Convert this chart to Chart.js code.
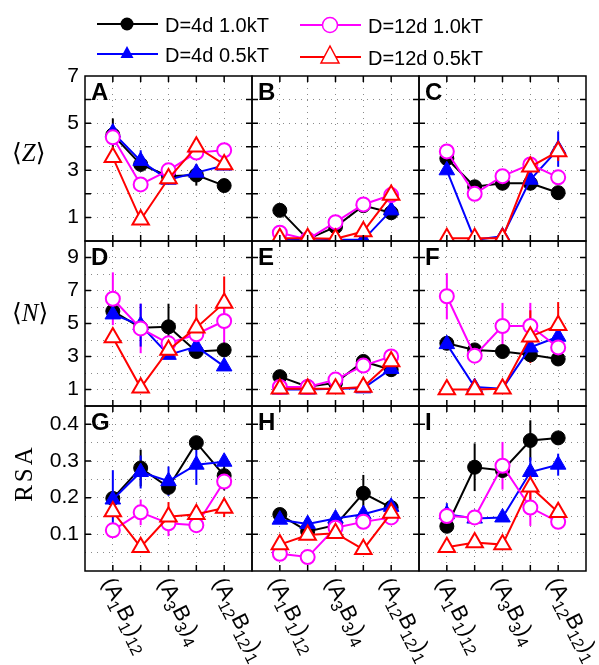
<!DOCTYPE html>
<html>
<head>
<meta charset="utf-8">
<script src="https://cdn.jsdelivr.net/npm/chart.js@4.4.1/dist/chart.umd.min.js"></script>
<style>
  body { margin: 0; background: #fff; }
  #wrap { position: relative; width: 599px; height: 665px; overflow: hidden; font-family: "Liberation Sans", Arial, sans-serif; }
  #chartContainer { position: absolute; left: 0; top: 0; }
  #legend { position: absolute; left: 0; top: 0; }
  .ytitle { position: absolute; font-family: "Liberation Serif", "DejaVu Serif", serif; font-size: 25px; line-height: 1; white-space: nowrap; }
  .xlab { position: absolute; font-size: 22px; line-height: 1; white-space: nowrap; transform-origin: 0 0; transform: rotate(63deg) translateY(-50%); }
  .xlab sub { font-size: 0.75em; vertical-align: -0.35em; line-height: 0; }
</style>
</head>
<body>
<div id="wrap">
  <canvas id="chartContainer" width="599" height="665"></canvas>
  <svg id="legend" width="599" height="75"></svg>
  <div class="ytitle" style="left:12px;top:140px">⟨<i>Z</i>⟩</div>
  <div class="ytitle" style="left:12px;top:300px">⟨<i>N</i>⟩</div>
  <div class="ytitle" style="left:23px;top:473px;transform:translate(-50%,-50%) rotate(-90deg);letter-spacing:3px">RSA</div>
</div>
<script>
const xPos = [1, 2, 3, 4, 5];
const xTickPos = [1, 3, 5];
const xTickLabels = ['(A<sub>1</sub>B<sub>1</sub>)<sub>12</sub>', '(A<sub>3</sub>B<sub>3</sub>)<sub>4</sub>', '(A<sub>12</sub>B<sub>12</sub>)<sub>1</sub>'];
const panelLetters = ['A', 'B', 'C', 'D', 'E', 'F', 'G', 'H', 'I'];
const seriesNames = ['D=4d 1.0kT', 'D=4d 0.5kT', 'D=12d 1.0kT', 'D=12d 0.5kT'];
const seriesColors = ['#000000', '#0000ff', '#ff00ff', '#ff0000'];

// <Z>, one list per panel column
const zD4T10 = [[4.5, 3.25, 2.75, 2.8, 2.35], [1.3, 0.08, 0.6, 1.5, 1.2], [3.5, 2.3, 2.45, 2.45, 2.05]];
const zD4T05 = [[4.6, 3.4, 2.6, 2.9, 3.2], [0.08, 0.02, 0.05, 0.05, 1.3], [3.0, 0.05, 0.2, 2.6, 3.9]];
const zD12T10 = [[4.4, 2.4, 3.0, 3.75, 3.85], [0.35, 0.07, 0.8, 1.55, 1.95], [3.8, 2.0, 2.75, 3.25, 2.7]];
const zD12T05 = [[3.55, 0.9, 2.65, 4.0, 3.25], [0.12, 0.12, 0.1, 0.4, 1.95], [0.12, 0.12, 0.12, 3.15, 3.8]];

// <N>
const nD4T10 = [[5.75, 4.75, 4.8, 3.3, 3.4], [1.78, 1.17, 1.4, 2.7, 2.2], [3.8, 3.4, 3.3, 3.1, 2.85]];
const nD4T05 = [[5.55, 4.9, 3.1, 3.6, 2.4], [1.0, 1.0, 1.05, 1.07, 2.25], [3.75, 1.15, 1.05, 3.55, 4.2]];
const nD12T10 = [[6.5, 4.7, 3.8, 4.35, 5.15], [1.15, 1.15, 1.6, 2.45, 3.0], [6.65, 3.05, 4.85, 4.85, 3.55]];
const nD12T05 = [[4.15, 1.1, 3.4, 4.75, 6.25], [1.05, 1.05, 1.05, 1.15, 2.7], [1.0, 1.0, 1.05, 4.2, 4.9]];

// RSA
const rD4T10 = [[0.198, 0.281, 0.228, 0.35, 0.26], [0.154, 0.108, 0.125, 0.212, 0.173], [0.122, 0.283, 0.274, 0.356, 0.363]];
const rD4T05 = [[0.195, 0.27, 0.245, 0.29, 0.298], [0.14, 0.128, 0.143, 0.155, 0.175], [0.155, 0.143, 0.146, 0.27, 0.29]];
const rD12T10 = [[0.111, 0.16, 0.13, 0.125, 0.244], [0.047, 0.038, 0.118, 0.134, 0.146], [0.15, 0.146, 0.287, 0.173, 0.134]];
const rD12T05 = [[0.162, 0.065, 0.148, 0.155, 0.172], [0.072, 0.098, 0.103, 0.059, 0.158], [0.065, 0.078, 0.072, 0.23, 0.16]];

// [row, column, series, point, half length]
const errorBars = [
  [0, 0, 0, 0, 0.7], [0, 0, 1, 1, 0.45], [0, 0, 0, 3, 0.45],
  [0, 2, 1, 4, 0.75], [0, 2, 3, 4, 0.4],
  [1, 0, 2, 0, 1.6], [1, 0, 2, 1, 1.5], [1, 0, 0, 2, 1.4], [1, 0, 3, 3, 1.4], [1, 0, 3, 4, 1.6], [1, 0, 2, 4, 1.7], [1, 0, 1, 1, 1.3],
  [1, 2, 2, 0, 1.4], [1, 2, 2, 2, 1.4], [1, 2, 2, 3, 1.4], [1, 2, 3, 3, 1.6], [1, 2, 3, 4, 1.4],
  [2, 0, 1, 0, 0.08], [2, 0, 0, 1, 0.05], [2, 0, 1, 1, 0.045], [2, 0, 1, 2, 0.04], [2, 0, 1, 3, 0.055], [2, 0, 0, 4, 0.04],
  [2, 0, 2, 1, 0.035], [2, 0, 3, 2, 0.04], [2, 0, 3, 4, 0.025], [2, 0, 2, 2, 0.035],
  [2, 1, 0, 3, 0.05],
  [2, 2, 0, 1, 0.065], [2, 2, 0, 3, 0.055], [2, 2, 2, 2, 0.065], [2, 2, 2, 3, 0.05], [2, 2, 1, 0, 0.03], [2, 2, 1, 3, 0.04],
  [2, 2, 3, 3, 0.06], [2, 2, 1, 4, 0.03]
];

const rowValues = [
  [zD4T10, zD4T05, zD12T10, zD12T05],
  [nD4T10, nD4T05, nD12T10, nD12T05],
  [rD4T10, rD4T05, rD12T10, rD12T05]
];
const rowMin = [0, 0, 0];
const rowMax = [7, 10, 0.45];
const rowStep = [1, 1, 0.05];

const markStyle = [
  {pointStyle: 'circle', radius: 7, fill: '#000000', border: 1},
  {pointStyle: 'triangle', radius: 9, fill: '#0000ff', border: 1},
  {pointStyle: 'circle', radius: 7, fill: '#ffffff', border: 2},
  {pointStyle: 'triangle', radius: 9.5, fill: '#ffffff', border: 2}
];

function isLabelled(row, v) {
  if (row === 2) {
    const k = Math.round(v * 20);
    return k > 0 && k < 9 && k % 2 === 0;
  }
  return Math.round(v) % 2 === 1;
}
function hasTickMark(row, v) {
  if (row === 0) return v > 0.01 && v < 6.99;
  return isLabelled(row, v);
}

const datasets = [];
for (let r = 0; r < 3; r++) {
  for (let c = 0; c < 3; c++) {
    for (let s = 0; s < 4; s++) {
      const m = markStyle[s];
      datasets.push({
        label: seriesNames[s],
        data: rowValues[r][s][c].map((v, i) => ({x: xPos[i], y: v})),
        xAxisID: 'x' + c,
        yAxisID: 'y' + r,
        borderColor: seriesColors[s],
        borderWidth: 2,
        backgroundColor: seriesColors[s],
        pointStyle: m.pointStyle,
        pointRadius: m.radius,
        pointBackgroundColor: m.fill,
        pointBorderColor: seriesColors[s],
        pointBorderWidth: m.border,
        tension: 0,
        order: 4 - s
      });
    }
  }
}

const scales = {};
for (let c = 0; c < 3; c++) {
  scales['x' + c] = {
    type: 'linear', position: 'bottom', stack: 'cols', stackWeight: 1, weight: c + 1,
    min: 0, max: 6,
    ticks: {display: false, stepSize: 1, autoSkip: false},
    grid: {drawTicks: false, lineWidth: 1, color: (ctx) => (ctx.tick && (ctx.tick.value < 0.5 || ctx.tick.value > 5.5)) ? 'rgba(0,0,0,0)' : '#8a8a8a'},
    border: {display: false, dash: [1, 5]},
    afterFit: (s) => { s.height = 0; }
  };
}
for (let r = 0; r < 3; r++) {
  scales['y' + r] = {
    type: 'linear', position: 'left', stack: 'rows', stackWeight: 1, weight: 3 - r,
    min: rowMin[r], max: rowMax[r],
    ticks: {
      stepSize: rowStep[r], padding: 6, color: '#000', autoSkip: false,
      font: {family: '"Liberation Sans", Arial, sans-serif', size: 21},
      callback: (v) => isLabelled(r, v) ? (r === 2 ? v.toFixed(1) : String(Math.round(v))) : ''
    },
    grid: {drawTicks: false, lineWidth: 1, color: (ctx) => {
      if (!ctx.tick) return '#8a8a8a';
      const v = ctx.tick.value;
      return (v <= rowMin[r] + 1e-6 || v >= rowMax[r] - 1e-6) ? 'rgba(0,0,0,0)' : '#8a8a8a';
    }},
    border: {display: false, dash: [1, 5]},
    afterFit: (s) => { s.width = 85; }
  };
}

const panelPlugin = {
  id: 'panels',
  beforeDatasetsDraw(chart) {
    const ctx = chart.ctx;
    errorBars.forEach(([r, c, s, i, e]) => {
      const xs = chart.scales['x' + c], ys = chart.scales['y' + r];
      const v = rowValues[r][s][c][i];
      const px = xs.getPixelForValue(xPos[i]);
      ctx.save();
      ctx.beginPath();
      ctx.rect(xs.left, ys.top, xs.width, ys.height);
      ctx.clip();
      ctx.strokeStyle = seriesColors[s];
      ctx.lineWidth = 2;
      ctx.beginPath();
      ctx.moveTo(px, ys.getPixelForValue(v - e));
      ctx.lineTo(px, ys.getPixelForValue(v + e));
      ctx.stroke();
      ctx.restore();
    });
  },
  beforeDatasetDraw(chart, args) {
    const xs = args.meta.xScale, ys = args.meta.yScale;
    chart.ctx.save();
    chart.ctx.beginPath();
    chart.ctx.rect(xs.left, ys.top, xs.width, ys.height);
    chart.ctx.clip();
  },
  afterDatasetDraw(chart) {
    chart.ctx.restore();
  },
  afterDatasetsDraw(chart) {
    const ctx = chart.ctx;
    ctx.save();
    ctx.strokeStyle = '#000';
    ctx.lineWidth = 1.5;
    for (let r = 0; r < 3; r++) {
      for (let c = 0; c < 3; c++) {
        const xs = chart.scales['x' + c], ys = chart.scales['y' + r];
        ctx.strokeRect(xs.left, ys.top, xs.width, ys.height);
        ctx.beginPath();
        xPos.forEach((p) => {
          const px = xs.getPixelForValue(p);
          ctx.moveTo(px, ys.bottom); ctx.lineTo(px, ys.bottom - 6);
          ctx.moveTo(px, ys.top); ctx.lineTo(px, ys.top + 6);
        });
        ys.ticks.forEach((t) => {
          if (!hasTickMark(r, t.value)) return;
          const py = ys.getPixelForValue(t.value);
          ctx.moveTo(xs.left, py); ctx.lineTo(xs.left + 6, py);
          ctx.moveTo(xs.right, py); ctx.lineTo(xs.right - 6, py);
        });
        ctx.stroke();
        ctx.fillStyle = '#000';
        ctx.font = 'bold 24px "Liberation Sans", Arial, sans-serif';
        ctx.textBaseline = 'top';
        ctx.fillText(panelLetters[r * 3 + c], xs.left + 6, ys.top + 5);
      }
    }
    ctx.restore();
  }
};

const cashCanvas = document.getElementById('chartContainer').getContext('2d');
const panelChart = new Chart(cashCanvas, {
  type: 'line',
  data: {datasets: datasets},
  options: {
    responsive: false,
    animation: false,
    devicePixelRatio: 1,
    layout: {padding: {top: 76, right: 13, bottom: 94, left: 0}},
    plugins: {legend: {display: false}, tooltip: {enabled: false}},
    scales: scales
  },
  plugins: [panelPlugin]
});

// x tick labels under the bottom row
const wrap = document.getElementById('wrap');
for (let c = 0; c < 3; c++) {
  const xs = panelChart.scales['x' + c];
  const bottom = panelChart.scales['y2'].bottom;
  xTickPos.forEach((p, k) => {
    const d = document.createElement('div');
    d.className = 'xlab';
    d.innerHTML = xTickLabels[k];
    d.style.left = (xs.getPixelForValue(p) - 5) + 'px';
    d.style.top = (bottom + 8) + 'px';
    wrap.appendChild(d);
  });
}

// legend
const svgNS = 'http://www.w3.org/2000/svg';
const legend = document.getElementById('legend');
function svgEl(name, attrs) {
  const el = document.createElementNS(svgNS, name);
  for (const k in attrs) el.setAttribute(k, attrs[k]);
  legend.appendChild(el);
  return el;
}
const legendPos = [[97, 24], [97, 54], [300, 25], [300, 57]];
seriesNames.forEach((name, s) => {
  const [lx, ly] = legendPos[s];
  const cx = lx + 30;
  svgEl('line', {x1: lx, y1: ly, x2: lx + 61, y2: ly, stroke: seriesColors[s], 'stroke-width': 2});
  if (s === 0) svgEl('circle', {cx: cx, cy: ly, r: 6.5, fill: '#000'});
  if (s === 2) svgEl('circle', {cx: cx, cy: ly, r: 7.5, fill: '#fff', stroke: seriesColors[s], 'stroke-width': 1.5});
  if (s === 1) svgEl('polygon', {points: `${cx},${ly - 8} ${cx - 6.5},${ly + 4} ${cx + 6.5},${ly + 4}`, fill: seriesColors[s]});
  if (s === 3) svgEl('polygon', {points: `${cx},${ly - 11} ${cx - 9},${ly + 6} ${cx + 9},${ly + 6}`, fill: '#fff', stroke: seriesColors[s], 'stroke-width': 1.5});
  const t = svgEl('text', {x: lx + 68, y: ly + 8, 'font-size': 20, 'font-family': '"Liberation Sans", Arial, sans-serif', fill: '#000'});
  t.textContent = name;
});
</script>
</body>
</html>
